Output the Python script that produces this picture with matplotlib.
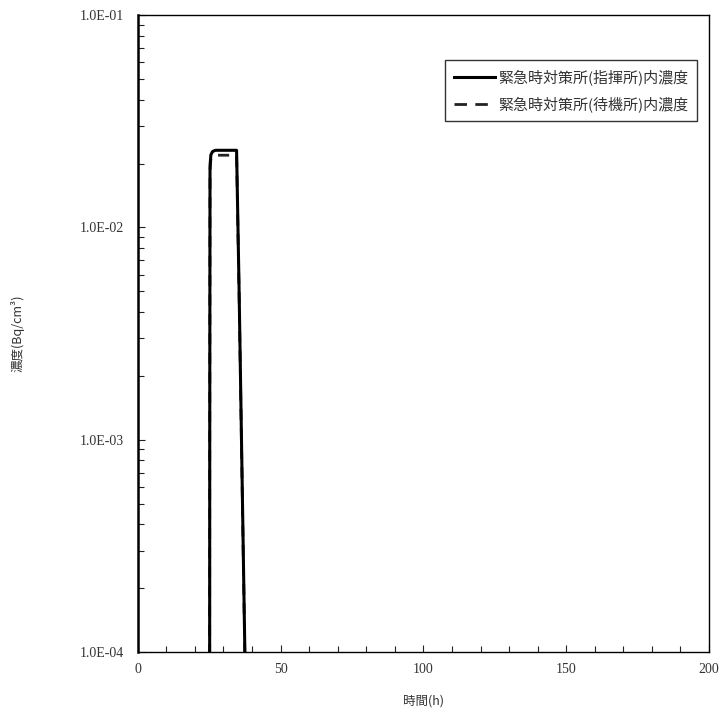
import matplotlib
matplotlib.use('Agg')
from matplotlib import pyplot as plt
from matplotlib.ticker import FuncFormatter, MultipleLocator, LogLocator
import numpy as np

JP = ['Noto Sans CJK JP', 'DejaVu Sans']
SERIF = ['Liberation Serif', 'DejaVu Serif']

# time (h) and concentration (Bq/cm3)
hours = [0.0, 25.1, 25.2, 25.3, 25.6, 26.2, 27.2, 34.6, 35.5, 36.5, 37.5, 38.0, 200.0]
command_post = [1e-7, 1e-7, 1e-3, 0.0195, 0.0220, 0.0228, 0.0231, 0.0231,
                0.00489, 7.0e-4, 1.0e-4, 3.8e-5, 1e-7]
standby_post = [1e-7, 1e-7, 1e-3, 0.0185, 0.0210, 0.0217, 0.0219, 0.0219,
                0.00465, 6.7e-4, 0.95e-4, 3.6e-5, 1e-7]

names = ['緊急時対策所(指揮所)内濃度', '緊急時対策所(待機所)内濃度']

fig = plt.figure(figsize=(7.25, 7.24), dpi=100)
ax = fig.add_axes([0.19, 0.0994, 0.788, 0.8796])

ax.plot(hours, standby_post, color='#222222', lw=2.0, ls=(3.0, (4.0, 3.0)), label=names[1], zorder=2)
ax.plot(hours, command_post, color='black', lw=2.2, label=names[0], zorder=3)

ax.set_yscale('log')
ax.set_xlim(0, 200)
ax.set_ylim(1e-4, 1e-1)

ax.xaxis.set_major_locator(MultipleLocator(50))
ax.xaxis.set_minor_locator(MultipleLocator(10))
ax.yaxis.set_major_locator(LogLocator(base=10))
ax.yaxis.set_minor_locator(LogLocator(base=10, subs=np.arange(2, 10)))
ax.yaxis.set_major_formatter(FuncFormatter(lambda v, p: '%.1E' % v))
ax.tick_params(which='both', direction='in', colors='#222222', labelsize=10)
ax.tick_params(which='major', length=5, width=0.8)
ax.tick_params(which='minor', length=4, width=0.8)
ax.tick_params(axis='x', pad=8)
ax.tick_params(axis='y', pad=10)
for lab in ax.get_xticklabels() + ax.get_yticklabels():
    lab.set_family(SERIF)
    lab.set_color('#333333')

for s in ['top', 'right', 'bottom']:
    ax.spines[s].set_linewidth(1.0)
ax.spines['left'].set_linewidth(1.8)

ax.set_xlabel('時間(h)', family=JP, fontsize=9, color='#333333', labelpad=13)
ax.set_ylabel('濃度(Bq/cm³)', family=JP, fontsize=9, color='#333333', labelpad=40)

handles, labels = ax.get_legend_handles_labels()
leg = ax.legend(handles[::-1], labels[::-1], loc='upper right', bbox_to_anchor=(0.979, 0.929),
                prop={'family': JP, 'size': 10.8}, frameon=True, fancybox=False,
                edgecolor='black', handlelength=2.7, handletextpad=0.2,
                borderpad=0.6, labelspacing=0.7, borderaxespad=0)
leg.get_frame().set_linewidth(1.0)
leg.legend_handles[1].set_linestyle((0, (4.5, 3.0)))
for t in leg.get_texts():
    t.set_color('#333333')

fig.savefig('out.png', dpi=100)
